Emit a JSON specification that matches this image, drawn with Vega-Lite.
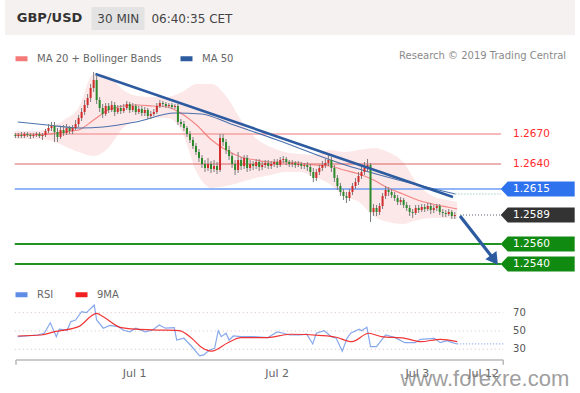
{
  "$schema": "https://vega.github.io/schema/vega-lite/v6.json",
  "width": 580,
  "height": 393,
  "padding": 0,
  "autosize": {"type": "fit", "contains": "padding"},
  "background": "#ffffff",
  "config": {"view": {"stroke": null}, "font": "DejaVu Sans", "text": {"font": "DejaVu Sans"}},
  "datasets": {
    "candles": [
      {"t":-19.5,"o":1.2669,"h":1.2671,"l":1.2666,"c":1.2668},
      {"t":-19,"o":1.2668,"h":1.2671,"l":1.2666,"c":1.2669},
      {"t":-18.5,"o":1.2669,"h":1.2672,"l":1.2666,"c":1.2668},
      {"t":-18,"o":1.2668,"h":1.2672,"l":1.2666,"c":1.2670},
      {"t":-17.5,"o":1.2670,"h":1.2672,"l":1.2667,"c":1.2669},
      {"t":-17,"o":1.2669,"h":1.2671,"l":1.2665,"c":1.2668},
      {"t":-16.5,"o":1.2668,"h":1.2671,"l":1.2666,"c":1.2669},
      {"t":-16,"o":1.2669,"h":1.2672,"l":1.2667,"c":1.2670},
      {"t":-15.5,"o":1.2670,"h":1.2672,"l":1.2666,"c":1.2668},
      {"t":-15,"o":1.2668,"h":1.2671,"l":1.2664,"c":1.2669},
      {"t":-14.5,"o":1.2669,"h":1.2675,"l":1.2667,"c":1.2673},
      {"t":-14,"o":1.2673,"h":1.2680,"l":1.2671,"c":1.2676},
      {"t":-13.5,"o":1.2676,"h":1.2682,"l":1.2673,"c":1.2678},
      {"t":-13,"o":1.2678,"h":1.2682,"l":1.2662,"c":1.2672},
      {"t":-12.5,"o":1.2672,"h":1.2676,"l":1.2662,"c":1.2667},
      {"t":-12,"o":1.2667,"h":1.2677,"l":1.2665,"c":1.2674},
      {"t":-11.5,"o":1.2674,"h":1.2679,"l":1.2668,"c":1.2671},
      {"t":-11,"o":1.2671,"h":1.2680,"l":1.2669,"c":1.2676},
      {"t":-10.5,"o":1.2676,"h":1.2678,"l":1.2670,"c":1.2673},
      {"t":-10,"o":1.2673,"h":1.2679,"l":1.2670,"c":1.2676},
      {"t":-9.5,"o":1.2676,"h":1.2684,"l":1.2674,"c":1.2680},
      {"t":-9,"o":1.2680,"h":1.2689,"l":1.2677,"c":1.2686},
      {"t":-8.5,"o":1.2686,"h":1.2696,"l":1.2683,"c":1.2692},
      {"t":-8,"o":1.2692,"h":1.2704,"l":1.2689,"c":1.2699},
      {"t":-7.5,"o":1.2699,"h":1.2710,"l":1.2696,"c":1.2706},
      {"t":-7,"o":1.2706,"h":1.2720,"l":1.2702,"c":1.2716},
      {"t":-6.5,"o":1.2716,"h":1.2732,"l":1.2712,"c":1.2724},
      {"t":-6,"o":1.2724,"h":1.2728,"l":1.2700,"c":1.2704},
      {"t":-5.5,"o":1.2704,"h":1.2707,"l":1.2692,"c":1.2696},
      {"t":-5,"o":1.2696,"h":1.2700,"l":1.2686,"c":1.2690},
      {"t":-4.5,"o":1.2690,"h":1.2701,"l":1.2688,"c":1.2698},
      {"t":-4,"o":1.2698,"h":1.2701,"l":1.2691,"c":1.2694},
      {"t":-3.5,"o":1.2694,"h":1.2703,"l":1.2692,"c":1.2699},
      {"t":-3,"o":1.2699,"h":1.2702,"l":1.2688,"c":1.2692},
      {"t":-2.5,"o":1.2692,"h":1.2699,"l":1.2690,"c":1.2696},
      {"t":-2,"o":1.2696,"h":1.2699,"l":1.2690,"c":1.2693},
      {"t":-1.5,"o":1.2693,"h":1.2700,"l":1.2691,"c":1.2696},
      {"t":-1,"o":1.2696,"h":1.2703,"l":1.2694,"c":1.2700},
      {"t":-0.5,"o":1.2700,"h":1.2702,"l":1.2691,"c":1.2694},
      {"t":0,"o":1.2694,"h":1.2701,"l":1.2692,"c":1.2698},
      {"t":0.5,"o":1.2698,"h":1.2700,"l":1.2689,"c":1.2692},
      {"t":1,"o":1.2692,"h":1.2698,"l":1.2690,"c":1.2695},
      {"t":1.5,"o":1.2695,"h":1.2698,"l":1.2688,"c":1.2691},
      {"t":2,"o":1.2691,"h":1.2697,"l":1.2688,"c":1.2694},
      {"t":2.5,"o":1.2694,"h":1.2696,"l":1.2685,"c":1.2688},
      {"t":3,"o":1.2688,"h":1.2693,"l":1.2685,"c":1.2690},
      {"t":3.5,"o":1.2690,"h":1.2695,"l":1.2688,"c":1.2692},
      {"t":4,"o":1.2692,"h":1.2701,"l":1.2690,"c":1.2698},
      {"t":4.5,"o":1.2698,"h":1.2704,"l":1.2696,"c":1.2701},
      {"t":5,"o":1.2701,"h":1.2703,"l":1.2697,"c":1.2700},
      {"t":5.5,"o":1.2700,"h":1.2702,"l":1.2696,"c":1.2698},
      {"t":6,"o":1.2698,"h":1.2701,"l":1.2696,"c":1.2699},
      {"t":6.5,"o":1.2699,"h":1.2701,"l":1.2695,"c":1.2697},
      {"t":7,"o":1.2697,"h":1.2700,"l":1.2695,"c":1.2698},
      {"t":7.5,"o":1.2698,"h":1.2700,"l":1.2679,"c":1.2682},
      {"t":8,"o":1.2682,"h":1.2685,"l":1.2677,"c":1.2680},
      {"t":8.5,"o":1.2680,"h":1.2683,"l":1.2673,"c":1.2676},
      {"t":9,"o":1.2676,"h":1.2678,"l":1.2667,"c":1.2670},
      {"t":9.5,"o":1.2670,"h":1.2673,"l":1.2661,"c":1.2664},
      {"t":10,"o":1.2664,"h":1.2667,"l":1.2655,"c":1.2658},
      {"t":10.5,"o":1.2658,"h":1.2661,"l":1.2649,"c":1.2652},
      {"t":11,"o":1.2652,"h":1.2655,"l":1.2642,"c":1.2646},
      {"t":11.5,"o":1.2646,"h":1.2649,"l":1.2636,"c":1.2640},
      {"t":12,"o":1.2640,"h":1.2644,"l":1.2632,"c":1.2636},
      {"t":12.5,"o":1.2636,"h":1.2646,"l":1.2633,"c":1.2640},
      {"t":13,"o":1.2640,"h":1.2643,"l":1.2631,"c":1.2635},
      {"t":13.5,"o":1.2635,"h":1.2644,"l":1.2632,"c":1.2638},
      {"t":14,"o":1.2638,"h":1.2642,"l":1.2630,"c":1.2634},
      {"t":14.5,"o":1.2634,"h":1.2670,"l":1.2632,"c":1.2666},
      {"t":15,"o":1.2666,"h":1.2670,"l":1.2658,"c":1.2662},
      {"t":15.5,"o":1.2662,"h":1.2665,"l":1.2650,"c":1.2654},
      {"t":16,"o":1.2654,"h":1.2658,"l":1.2644,"c":1.2648},
      {"t":16.5,"o":1.2648,"h":1.2651,"l":1.2636,"c":1.2640},
      {"t":17,"o":1.2640,"h":1.2644,"l":1.2629,"c":1.2634},
      {"t":17.5,"o":1.2634,"h":1.2652,"l":1.2631,"c":1.2644},
      {"t":18,"o":1.2644,"h":1.2647,"l":1.2634,"c":1.2638},
      {"t":18.5,"o":1.2638,"h":1.2649,"l":1.2635,"c":1.2646},
      {"t":19,"o":1.2646,"h":1.2649,"l":1.2632,"c":1.2636},
      {"t":19.5,"o":1.2636,"h":1.2644,"l":1.2633,"c":1.2640},
      {"t":20,"o":1.2640,"h":1.2643,"l":1.2634,"c":1.2638},
      {"t":20.5,"o":1.2638,"h":1.2645,"l":1.2635,"c":1.2642},
      {"t":21,"o":1.2642,"h":1.2645,"l":1.2633,"c":1.2637},
      {"t":21.5,"o":1.2637,"h":1.2642,"l":1.2634,"c":1.2639},
      {"t":22,"o":1.2639,"h":1.2644,"l":1.2636,"c":1.2641},
      {"t":22.5,"o":1.2641,"h":1.2644,"l":1.2635,"c":1.2638},
      {"t":23,"o":1.2638,"h":1.2643,"l":1.2635,"c":1.2640},
      {"t":23.5,"o":1.2640,"h":1.2645,"l":1.2637,"c":1.2642},
      {"t":24,"o":1.2642,"h":1.2645,"l":1.2636,"c":1.2639},
      {"t":24.5,"o":1.2639,"h":1.2647,"l":1.2637,"c":1.2644},
      {"t":25,"o":1.2644,"h":1.2648,"l":1.2641,"c":1.2645},
      {"t":25.5,"o":1.2645,"h":1.2647,"l":1.2639,"c":1.2642},
      {"t":26,"o":1.2642,"h":1.2644,"l":1.2637,"c":1.2640},
      {"t":26.5,"o":1.2640,"h":1.2644,"l":1.2637,"c":1.2641},
      {"t":27,"o":1.2641,"h":1.2643,"l":1.2636,"c":1.2639},
      {"t":27.5,"o":1.2639,"h":1.2643,"l":1.2637,"c":1.2640},
      {"t":28,"o":1.2640,"h":1.2642,"l":1.2635,"c":1.2638},
      {"t":28.5,"o":1.2638,"h":1.2641,"l":1.2635,"c":1.2639},
      {"t":29,"o":1.2639,"h":1.2642,"l":1.2633,"c":1.2637},
      {"t":29.5,"o":1.2637,"h":1.2640,"l":1.2628,"c":1.2632},
      {"t":30,"o":1.2632,"h":1.2636,"l":1.2622,"c":1.2626},
      {"t":30.5,"o":1.2626,"h":1.2635,"l":1.2623,"c":1.2632},
      {"t":31,"o":1.2632,"h":1.2639,"l":1.2629,"c":1.2636},
      {"t":31.5,"o":1.2636,"h":1.2643,"l":1.2633,"c":1.2639},
      {"t":32,"o":1.2639,"h":1.2645,"l":1.2636,"c":1.2641},
      {"t":32.5,"o":1.2641,"h":1.2649,"l":1.2638,"c":1.2644},
      {"t":33,"o":1.2644,"h":1.2647,"l":1.2632,"c":1.2636},
      {"t":33.5,"o":1.2636,"h":1.2639,"l":1.2622,"c":1.2626},
      {"t":34,"o":1.2626,"h":1.2629,"l":1.2614,"c":1.2618},
      {"t":34.5,"o":1.2618,"h":1.2621,"l":1.2608,"c":1.2612},
      {"t":35,"o":1.2612,"h":1.2615,"l":1.2604,"c":1.2608},
      {"t":35.5,"o":1.2608,"h":1.2612,"l":1.2601,"c":1.2606},
      {"t":36,"o":1.2606,"h":1.2615,"l":1.2603,"c":1.2612},
      {"t":36.5,"o":1.2612,"h":1.2621,"l":1.2609,"c":1.2618},
      {"t":37,"o":1.2618,"h":1.2626,"l":1.2615,"c":1.2622},
      {"t":37.5,"o":1.2622,"h":1.2632,"l":1.2619,"c":1.2628},
      {"t":38,"o":1.2628,"h":1.2637,"l":1.2625,"c":1.2632},
      {"t":38.5,"o":1.2632,"h":1.2642,"l":1.2629,"c":1.2636},
      {"t":39,"o":1.2636,"h":1.2645,"l":1.2633,"c":1.2639},
      {"t":39.5,"o":1.2639,"h":1.2641,"l":1.2582,"c":1.2592},
      {"t":40,"o":1.2592,"h":1.2600,"l":1.2588,"c":1.2596},
      {"t":40.5,"o":1.2596,"h":1.2599,"l":1.2588,"c":1.2592},
      {"t":41,"o":1.2592,"h":1.2601,"l":1.2589,"c":1.2598},
      {"t":41.5,"o":1.2598,"h":1.2611,"l":1.2595,"c":1.2608},
      {"t":42,"o":1.2608,"h":1.2618,"l":1.2605,"c":1.2614},
      {"t":42.5,"o":1.2614,"h":1.2617,"l":1.2608,"c":1.2612},
      {"t":43,"o":1.2612,"h":1.2615,"l":1.2606,"c":1.2609},
      {"t":43.5,"o":1.2609,"h":1.2612,"l":1.2603,"c":1.2606},
      {"t":44,"o":1.2606,"h":1.2609,"l":1.2599,"c":1.2602},
      {"t":44.5,"o":1.2602,"h":1.2607,"l":1.2599,"c":1.2604},
      {"t":45,"o":1.2604,"h":1.2606,"l":1.2596,"c":1.2599},
      {"t":45.5,"o":1.2599,"h":1.2602,"l":1.2593,"c":1.2596},
      {"t":46,"o":1.2596,"h":1.2599,"l":1.2588,"c":1.2592},
      {"t":46.5,"o":1.2592,"h":1.2595,"l":1.2586,"c":1.2591},
      {"t":47,"o":1.2591,"h":1.2599,"l":1.2589,"c":1.2596},
      {"t":47.5,"o":1.2596,"h":1.2599,"l":1.2591,"c":1.2594},
      {"t":48,"o":1.2594,"h":1.2600,"l":1.2592,"c":1.2597},
      {"t":48.5,"o":1.2597,"h":1.2600,"l":1.2592,"c":1.2595},
      {"t":49,"o":1.2595,"h":1.2601,"l":1.2593,"c":1.2598},
      {"t":49.5,"o":1.2598,"h":1.2601,"l":1.2590,"c":1.2594},
      {"t":50,"o":1.2594,"h":1.2599,"l":1.2591,"c":1.2596},
      {"t":50.5,"o":1.2596,"h":1.2600,"l":1.2593,"c":1.2598},
      {"t":51,"o":1.2598,"h":1.2600,"l":1.2589,"c":1.2592},
      {"t":51.5,"o":1.2592,"h":1.2595,"l":1.2587,"c":1.2591},
      {"t":52,"o":1.2591,"h":1.2594,"l":1.2587,"c":1.2590},
      {"t":52.5,"o":1.2590,"h":1.2595,"l":1.2588,"c":1.2592},
      {"t":53,"o":1.2592,"h":1.2594,"l":1.2585,"c":1.2588},
      {"t":53.5,"o":1.2588,"h":1.2592,"l":1.2585,"c":1.2589}
    ],
    "bb": [
      {"t":-19.6,"up":1.2673,"mid":1.2669,"lo":1.2665},
      {"t":-16.3,"up":1.2673,"mid":1.2669,"lo":1.2665},
      {"t":-13.9,"up":1.2676,"mid":1.2670,"lo":1.2664},
      {"t":-11.4,"up":1.2684,"mid":1.2672,"lo":1.2658},
      {"t":-9.0,"up":1.2696,"mid":1.2674,"lo":1.2652},
      {"t":-6.5,"up":1.2730,"mid":1.2684,"lo":1.2648},
      {"t":-4.1,"up":1.2728,"mid":1.2694,"lo":1.2656},
      {"t":-1.6,"up":1.2714,"mid":1.2698,"lo":1.2676},
      {"t":0.8,"up":1.2708,"mid":1.2699,"lo":1.2684},
      {"t":3.3,"up":1.2707,"mid":1.2698,"lo":1.2686},
      {"t":5.7,"up":1.2707,"mid":1.2697,"lo":1.2686},
      {"t":8.2,"up":1.2712,"mid":1.2690,"lo":1.2672},
      {"t":10.6,"up":1.2720,"mid":1.2679,"lo":1.2632},
      {"t":13.1,"up":1.2720,"mid":1.2664,"lo":1.2616},
      {"t":15.5,"up":1.2708,"mid":1.2654,"lo":1.2618},
      {"t":18.0,"up":1.2684,"mid":1.2647,"lo":1.2622},
      {"t":20.4,"up":1.2666,"mid":1.2644,"lo":1.2626},
      {"t":22.9,"up":1.2657,"mid":1.2642,"lo":1.2629},
      {"t":25.3,"up":1.2652,"mid":1.2642,"lo":1.2632},
      {"t":27.8,"up":1.2650,"mid":1.2641,"lo":1.2632},
      {"t":30.2,"up":1.2649,"mid":1.2639,"lo":1.2627},
      {"t":32.7,"up":1.2654,"mid":1.2638,"lo":1.2620},
      {"t":35.1,"up":1.2652,"mid":1.2634,"lo":1.2608},
      {"t":37.6,"up":1.2654,"mid":1.2630,"lo":1.2602},
      {"t":40.0,"up":1.2656,"mid":1.2624,"lo":1.2588},
      {"t":42.4,"up":1.2652,"mid":1.2616,"lo":1.2582},
      {"t":44.9,"up":1.2642,"mid":1.2610,"lo":1.2580},
      {"t":47.3,"up":1.2620,"mid":1.2604,"lo":1.2584},
      {"t":49.8,"up":1.2608,"mid":1.2600,"lo":1.2586},
      {"t":52.2,"up":1.2604,"mid":1.2597,"lo":1.2586},
      {"t":53.9,"up":1.2602,"mid":1.2595,"lo":1.2585}
    ],
    "ma50": [
      {"t":-19.1,"v":1.2682},
      {"t":-14.2,"v":1.2679},
      {"t":-8.7,"v":1.2676},
      {"t":-4.9,"v":1.2677},
      {"t":0.5,"v":1.2682},
      {"t":7.0,"v":1.2691},
      {"t":11.4,"v":1.2690},
      {"t":16.3,"v":1.2680},
      {"t":24.0,"v":1.2664},
      {"t":34.3,"v":1.2641},
      {"t":44.1,"v":1.2624},
      {"t":53.6,"v":1.2610}
    ],
    "levels": [
      {"type":"r2","p":1.2670},
      {"type":"r1","p":1.2640},
      {"type":"pivot","p":1.2615},
      {"type":"last","p":1.2589},
      {"type":"s1","p":1.2560},
      {"type":"s2","p":1.2540}
    ],
    "lines": [
      {"id":"trend","t":-6.2,"p":1.2730},
      {"id":"trend","t":53.2,"p":1.2607},
      {"id":"arrow","t":54.37,"p":1.2588},
      {"id":"arrow","t":60.08,"p":1.2544}
    ],
    "rsi": [
      {"t":-19.1,"v":43.8},{"t":-15.8,"v":45.6},{"t":-14.7,"v":47.5},{"t":-13.7,"v":59},
      {"t":-12.7,"v":43.8},{"t":-12.2,"v":52},{"t":-10.9,"v":51},{"t":-10.3,"v":60},
      {"t":-9.5,"v":62},{"t":-8.5,"v":71},{"t":-7.7,"v":70},{"t":-6.4,"v":78.4},
      {"t":-6.0,"v":62},{"t":-4.9,"v":53},{"t":-3.8,"v":56},{"t":-2.4,"v":54.7},
      {"t":-1.6,"v":51},{"t":-0.5,"v":49},{"t":0.5,"v":53},{"t":2.1,"v":49},
      {"t":3.3,"v":51},{"t":4.4,"v":56.5},{"t":5.4,"v":53},{"t":6.9,"v":53.6},
      {"t":7.3,"v":40},{"t":8.5,"v":42},{"t":9.8,"v":33},{"t":11.1,"v":22.7},
      {"t":11.8,"v":23.8},{"t":12.7,"v":29},{"t":13.6,"v":31},{"t":14.2,"v":50.3},
      {"t":14.7,"v":43.8},{"t":15.5,"v":47.5},{"t":16.0,"v":40},{"t":16.7,"v":44.5},
      {"t":18.0,"v":43.8},{"t":20.1,"v":43.8},{"t":22.4,"v":42.7},{"t":24.0,"v":49},
      {"t":25.0,"v":47.5},{"t":26.1,"v":45.6},{"t":27.8,"v":45.6},{"t":28.9,"v":46.5},
      {"t":29.9,"v":35.8},{"t":30.5,"v":47.5},{"t":31.8,"v":50.3},{"t":33.0,"v":43.8},
      {"t":33.8,"v":42},{"t":34.8,"v":28},{"t":35.6,"v":42},{"t":36.2,"v":47.5},
      {"t":37.6,"v":51.9},{"t":38.0,"v":50.3},{"t":38.9,"v":54},{"t":39.5,"v":32.8},
      {"t":40.5,"v":32.8},{"t":42.0,"v":45.6},{"t":43.6,"v":42.7},{"t":45.2,"v":37.2},
      {"t":46.9,"v":37.2},{"t":47.8,"v":40.9},{"t":50.1,"v":42},{"t":51.1,"v":37.2},
      {"t":52.2,"v":39.4},{"t":53.1,"v":37.2},{"t":53.9,"v":35.8}
    ],
    "rsima": [
      {"t":-19.1,"v":44.5},{"t":-15.2,"v":45.6},{"t":-13.1,"v":49},{"t":-9.0,"v":54.7},
      {"t":-6.0,"v":69.3},{"t":-4.9,"v":65.6},{"t":-2.1,"v":54},{"t":0.5,"v":51.9},
      {"t":4.9,"v":51},{"t":7.7,"v":50.3},{"t":9.8,"v":42},{"t":11.4,"v":32.2},
      {"t":13.1,"v":28},{"t":15.8,"v":37.2},{"t":18.0,"v":42.7},{"t":22.4,"v":42.7},
      {"t":26.1,"v":46.4},{"t":31.5,"v":44.9},{"t":33.8,"v":43.1},{"t":36.4,"v":38.3},
      {"t":39.2,"v":47.5},{"t":41.3,"v":43.8},{"t":45.2,"v":42},{"t":47.8,"v":38.3},
      {"t":51.1,"v":40.9},{"t":53.9,"v":38.3}
    ],
    "rsilev": [{"v":70},{"v":50},{"v":30}],
    "dates": [
      {"t":0.3,"label":"Jul 1"},
      {"t":24.0,"label":"Jul 2"},
      {"t":47.3,"label":"Jul 3"},
      {"t":58.3,"label":"Jul 12"}
    ]
  },
  "resolve": {"scale": {"y": "independent", "color": "independent"}},
  "layer": [
    {
      "layer": [
        {
          "data": {"values": [{}]},
          "mark": {"type": "rect", "fill": "#f6f1f1"},
          "encoding": {
            "x": {"datum": -21.224, "type": "quantitative", "axis": null, "scale": {"domain": [-21.224, 73.469], "nice": false, "zero": false}},
            "x2": {"datum": 73.469},
            "y": {"datum": 1.2804, "type": "quantitative", "axis": null, "scale": {"domain": [1.2411, 1.2804], "nice": false, "zero": false}},
            "y2": {"datum": 1.2769}
          }
        },
        {
          "data": {"values": [{}]},
          "mark": {"type": "rect", "fill": "#e3e3e3"},
          "encoding": {
            "x": {"datum": -6.86, "type": "quantitative", "axis": null},
            "x2": {"datum": 1.96},
            "y": {"datum": 1.2797, "type": "quantitative", "axis": null},
            "y2": {"datum": 1.2774}
          }
        },
        {
          "data": {"values": [{}]},
          "mark": {"type": "text", "text": "GBP/USD", "align": "left", "baseline": "middle", "fontSize": 13, "fontWeight": "bold", "fill": "#333333"},
          "encoding": {
            "x": {"datum": -19.27, "type": "quantitative", "axis": null},
            "y": {"datum": 1.2786, "type": "quantitative", "axis": null}
          }
        },
        {
          "data": {"values": [{}]},
          "mark": {"type": "text", "text": "30 MIN", "align": "left", "baseline": "middle", "fontSize": 12, "fill": "#444444"},
          "encoding": {
            "x": {"datum": -5.88, "type": "quantitative", "axis": null},
            "y": {"datum": 1.27855, "type": "quantitative", "axis": null}
          }
        },
        {
          "data": {"values": [{}]},
          "mark": {"type": "text", "text": "06:40:35 CET", "align": "left", "baseline": "middle", "fontSize": 12, "fill": "#444444"},
          "encoding": {
            "x": {"datum": 3.1, "type": "quantitative", "axis": null},
            "y": {"datum": 1.27855, "type": "quantitative", "axis": null}
          }
        },
        {
          "data": {"values": [{}]},
          "mark": {"type": "text", "text": "Research © 2019 Trading Central", "align": "right", "baseline": "middle", "fontSize": 10, "fill": "#8a8a8a"},
          "encoding": {
            "x": {"datum": 72.0, "type": "quantitative", "axis": null},
            "y": {"datum": 1.2748, "type": "quantitative", "axis": null}
          }
        },
        {
          "data": {"name": "bb"},
          "mark": {"type": "area", "fill": "#f9cccc", "opacity": 0.45, "interpolate": "monotone"},
          "encoding": {
            "x": {"field": "t", "type": "quantitative", "axis": null},
            "y": {"field": "up", "type": "quantitative", "axis": null},
            "y2": {"field": "lo"}
          }
        },
        {
          "data": {"name": "levels"},
          "transform": [{"filter": "datum.type == 'r2'"}],
          "mark": {"type": "rule", "stroke": "#f5a3a3", "strokeWidth": 1.3},
          "encoding": {
            "x": {"datum": -19.6, "type": "quantitative", "axis": null},
            "x2": {"datum": 61.2},
            "y": {"field": "p", "type": "quantitative", "axis": null}
          }
        },
        {
          "data": {"name": "levels"},
          "transform": [{"filter": "datum.type == 'r1'"}],
          "mark": {"type": "rule", "stroke": "#d44a4a", "strokeWidth": 1, "opacity": 0.85},
          "encoding": {
            "x": {"datum": -19.6, "type": "quantitative", "axis": null},
            "x2": {"datum": 61.2},
            "y": {"field": "p", "type": "quantitative", "axis": null}
          }
        },
        {
          "data": {"name": "levels"},
          "transform": [{"filter": "datum.type == 'pivot'"}],
          "mark": {"type": "rule", "stroke": "#6d9df5", "strokeWidth": 1.6},
          "encoding": {
            "x": {"datum": -19.6, "type": "quantitative", "axis": null},
            "x2": {"datum": 61.2},
            "y": {"field": "p", "type": "quantitative", "axis": null}
          }
        },
        {
          "data": {"name": "levels"},
          "transform": [{"filter": "datum.type == 's1' || datum.type == 's2'"}],
          "mark": {"type": "rule", "stroke": "#229322", "strokeWidth": 2.2},
          "encoding": {
            "x": {"datum": -19.6, "type": "quantitative", "axis": null},
            "x2": {"datum": 61.2},
            "y": {"field": "p", "type": "quantitative", "axis": null}
          }
        },
        {
          "data": {"name": "bb"},
          "mark": {"type": "line", "strokeWidth": 1.2, "interpolate": "monotone", "opacity": 0.9},
          "encoding": {
            "x": {"field": "t", "type": "quantitative", "axis": null},
            "y": {"field": "mid", "type": "quantitative", "axis": null},
            "color": {
              "datum": "MA 20 + Bollinger Bands",
              "type": "nominal",
              "scale": {"domain": ["MA 20 + Bollinger Bands", "MA 50"], "range": ["#f47a7a", "#2d5ba0"]},
              "legend": {
                "orient": "none", "legendX": 13, "legendY": 50, "direction": "horizontal", "title": null,
                "symbolType": "stroke", "symbolSize": 144, "symbolStrokeWidth": 5, "symbolOpacity": 1,
                "labelFont": "DejaVu Sans", "labelFontSize": 10, "labelColor": "#666666", "labelOffset": 7, "columnPadding": 8,
                "encode": {"symbols": {"update": {"strokeWidth": {"value": 5}, "opacity": {"value": 1}}}}
              }
            }
          }
        },
        {
          "data": {"name": "ma50"},
          "mark": {"type": "line", "strokeWidth": 1.1, "interpolate": "monotone", "opacity": 0.85},
          "encoding": {
            "x": {"field": "t", "type": "quantitative", "axis": null},
            "y": {"field": "v", "type": "quantitative", "axis": null},
            "color": {"datum": "MA 50", "type": "nominal"}
          }
        },
        {
          "data": {"name": "candles"},
          "mark": {"type": "rule", "stroke": "#7d7d7d", "strokeWidth": 1},
          "encoding": {
            "x": {"field": "t", "type": "quantitative", "axis": null},
            "y": {"field": "l", "type": "quantitative", "axis": null},
            "y2": {"field": "h"}
          }
        },
        {
          "data": {"name": "candles"},
          "mark": {"type": "bar", "size": 2},
          "encoding": {
            "x": {"field": "t", "type": "quantitative", "axis": null},
            "y": {"field": "o", "type": "quantitative", "axis": null},
            "y2": {"field": "c"},
            "fill": {"condition": {"test": "datum.c > datum.o", "value": "#d22b2b"}, "value": "#2a8a2a"}
          }
        },
        {
          "data": {"name": "lines"},
          "transform": [{"filter": "datum.id == 'trend'"}],
          "mark": {"type": "line", "stroke": "#2d5ba0", "strokeWidth": 2.6},
          "encoding": {
            "x": {"field": "t", "type": "quantitative", "axis": null},
            "y": {"field": "p", "type": "quantitative", "axis": null}
          }
        },
        {
          "data": {"name": "ma50"},
          "transform": [{"filter": "datum.t > 53"}],
          "mark": {"type": "rule", "stroke": "#7fb8b0", "strokeWidth": 1.2, "strokeDash": [1, 2]},
          "encoding": {
            "x": {"field": "t", "type": "quantitative", "axis": null},
            "x2": {"datum": 61.2},
            "y": {"field": "v", "type": "quantitative", "axis": null}
          }
        },
        {
          "data": {"name": "levels"},
          "transform": [{"filter": "datum.type == 'last'"}],
          "mark": {"type": "rule", "stroke": "#556070", "strokeWidth": 1.2, "strokeDash": [1, 2]},
          "encoding": {
            "x": {"datum": 54.37, "type": "quantitative", "axis": null},
            "x2": {"datum": 61.2},
            "y": {"field": "p", "type": "quantitative", "axis": null}
          }
        },
        {
          "data": {"name": "lines"},
          "transform": [{"filter": "datum.id == 'arrow'"}],
          "mark": {"type": "line", "stroke": "#2d5ba0", "strokeWidth": 3.2},
          "encoding": {
            "x": {"field": "t", "type": "quantitative", "axis": null},
            "y": {"field": "p", "type": "quantitative", "axis": null}
          }
        },
        {
          "data": {"name": "lines"},
          "transform": [{"filter": "datum.id == 'arrow' && datum.t > 60"}],
          "mark": {"type": "point", "shape": "triangle-up", "filled": true, "size": 190, "angle": 144, "fill": "#2d5ba0", "opacity": 1},
          "encoding": {
            "x": {"field": "t", "type": "quantitative", "axis": null},
            "y": {"field": "p", "type": "quantitative", "axis": null}
          }
        },
        {
          "data": {"name": "levels"},
          "transform": [{"filter": "datum.type != 'r1' && datum.type != 'r2'"}],
          "mark": {"type": "point", "shape": "M-1,0L-0.81,-0.2L1,-0.2L1,0.2L-0.81,0.2Z", "filled": true, "size": 5476, "opacity": 1, "strokeWidth": 0},
          "encoding": {
            "x": {"datum": 67.27, "type": "quantitative", "axis": null},
            "y": {"field": "p", "type": "quantitative", "axis": null},
            "fill": {"field": "type", "type": "nominal", "legend": null, "scale": {"domain": ["pivot", "last", "s1", "s2"], "range": ["#2f72ee", "#333333", "#118a11", "#118a11"]}}
          }
        },
        {
          "data": {"name": "levels"},
          "transform": [{"filter": "datum.type != 'r1' && datum.type != 'r2'"}],
          "mark": {"type": "text", "align": "left", "baseline": "middle", "fontSize": 10.5, "fill": "#ffffff"},
          "encoding": {
            "x": {"datum": 63.18, "type": "quantitative", "axis": null},
            "y": {"field": "p", "type": "quantitative", "axis": null},
            "text": {"field": "p", "format": ".4f"}
          }
        },
        {
          "data": {"name": "levels"},
          "transform": [{"filter": "datum.type == 'r1' || datum.type == 'r2'"}],
          "mark": {"type": "text", "align": "left", "baseline": "middle", "fontSize": 10.5, "fill": "#ff2b2b"},
          "encoding": {
            "x": {"datum": 63.18, "type": "quantitative", "axis": null},
            "y": {"field": "p", "type": "quantitative", "axis": null},
            "text": {"field": "p", "format": ".4f"}
          }
        }
      ]
    },
    {
      "layer": [
        {
          "data": {"name": "rsilev"},
          "mark": {"type": "rule", "stroke": "#d4c0c0", "strokeWidth": 1, "strokeDash": [1, 3]},
          "encoding": {
            "x": {"datum": -19.6, "type": "quantitative", "axis": null},
            "x2": {"datum": 61.55},
            "y": {"field": "v", "type": "quantitative", "axis": null, "scale": {"domain": [-17.8, 411.7], "nice": false, "zero": false}}
          }
        },
        {
          "data": {"name": "rsilev"},
          "mark": {"type": "text", "align": "left", "baseline": "middle", "fontSize": 10, "fill": "#555555"},
          "encoding": {
            "x": {"datum": 63.18, "type": "quantitative", "axis": null},
            "y": {"field": "v", "type": "quantitative", "axis": null},
            "text": {"field": "v"}
          }
        },
        {
          "data": {"values": [{}]},
          "mark": {"type": "rule", "stroke": "#b8b8b8", "strokeWidth": 1.5},
          "encoding": {
            "x": {"datum": -19.4, "type": "quantitative", "axis": null},
            "x2": {"datum": 61.55},
            "y": {"datum": 18.3, "type": "quantitative", "axis": null}
          }
        },
        {
          "data": {"values": [{}]},
          "mark": {"type": "rule", "stroke": "#b8b8b8", "strokeWidth": 1.5},
          "encoding": {
            "x": {"datum": -19.4, "type": "quantitative", "axis": null},
            "y": {"datum": 18.3, "type": "quantitative", "axis": null},
            "y2": {"datum": 13}
          }
        },
        {
          "data": {"values": [{}]},
          "mark": {"type": "rule", "stroke": "#b8b8b8", "strokeWidth": 1.5},
          "encoding": {
            "x": {"datum": 61.55, "type": "quantitative", "axis": null},
            "y": {"datum": 18.3, "type": "quantitative", "axis": null},
            "y2": {"datum": 13}
          }
        },
        {
          "data": {"name": "rsi"},
          "mark": {"type": "line", "strokeWidth": 1.2, "opacity": 0.75},
          "encoding": {
            "x": {"field": "t", "type": "quantitative", "axis": null},
            "y": {"field": "v", "type": "quantitative", "axis": null},
            "color": {
              "datum": "RSI",
              "type": "nominal",
              "scale": {"domain": ["RSI", "9MA"], "range": ["#5f8ce6", "#f02020"]},
              "legend": {
                "orient": "none", "legendX": 13, "legendY": 286, "direction": "horizontal", "title": null,
                "symbolType": "stroke", "symbolSize": 144, "symbolStrokeWidth": 5, "symbolOpacity": 1,
                "labelFont": "DejaVu Sans", "labelFontSize": 10, "labelColor": "#666666", "labelOffset": 7, "columnPadding": 11,
                "encode": {"symbols": {"update": {"strokeWidth": {"value": 5}, "opacity": {"value": 1}}}}
              }
            }
          }
        },
        {
          "data": {"name": "rsima"},
          "mark": {"type": "line", "strokeWidth": 1.2, "interpolate": "monotone", "opacity": 0.9},
          "encoding": {
            "x": {"field": "t", "type": "quantitative", "axis": null},
            "y": {"field": "v", "type": "quantitative", "axis": null},
            "color": {"datum": "9MA", "type": "nominal"}
          }
        },
        {
          "data": {"name": "rsi"},
          "transform": [{"filter": "datum.t > 53.5"}],
          "mark": {"type": "rule", "stroke": "#8aa8ee", "strokeWidth": 1.2, "strokeDash": [1, 2]},
          "encoding": {
            "x": {"field": "t", "type": "quantitative", "axis": null},
            "x2": {"datum": 61.55},
            "y": {"field": "v", "type": "quantitative", "axis": null}
          }
        },
        {
          "data": {"name": "dates"},
          "mark": {"type": "text", "align": "center", "baseline": "middle", "fontSize": 11, "fill": "#666666"},
          "encoding": {
            "x": {"field": "t", "type": "quantitative", "axis": null},
            "y": {"datum": 3, "type": "quantitative", "axis": null},
            "text": {"field": "label"}
          }
        },
        {
          "data": {"values": [{}]},
          "mark": {"type": "text", "text": "www.forexre.com", "align": "center", "baseline": "middle", "font": "Liberation Sans", "fontSize": 22, "fill": "#808080", "opacity": 0.75},
          "encoding": {
            "x": {"datum": 58.5, "type": "quantitative", "axis": null},
            "y": {"datum": -2.5, "type": "quantitative", "axis": null}
          }
        }
      ]
    }
  ]
}
